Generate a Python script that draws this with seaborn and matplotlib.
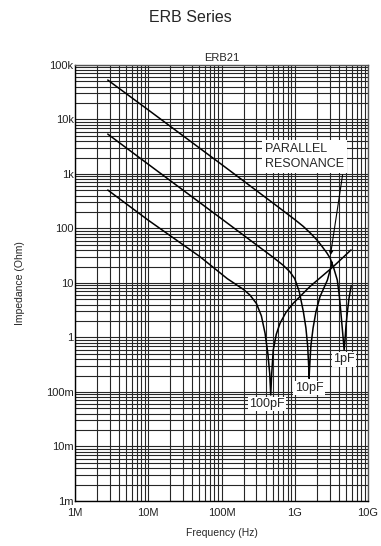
import numpy as np
import pandas as pd
import seaborn as sns
import matplotlib.pyplot as plt
from matplotlib.ticker import FixedLocator, LogLocator, NullFormatter

# impedance curves (Hz, Ohm)
freq_1pf = [2.8e6, 1e7, 1e8, 5e8, 1e9, 1.3e9, 1.61e9, 2.0e9, 2.3e9, 2.73e9, 3.03e9,
            3.4e9, 3.81e9, 4.05e9, 4.27e9, 4.45e9, 4.6e9, 4.72e9, 4.85e9, 5.0e9,
            5.21e9, 5.5e9, 5.9e9]
imp_1pf = [53000, 15000, 1500, 296, 146, 110, 84, 62, 49, 36, 28.8,
           19, 11.3, 6.0, 2.8, 1.5, 0.9, 0.59, 0.9, 1.6,
           2.8, 5.2, 9.0]

freq_10pf = [2.8e6, 1e7, 1e8, 5e8, 7e8, 8.6e8, 1.0e9, 1.15e9, 1.31e9, 1.42e9, 1.5e9,
             1.55e9, 1.57e9, 1.6e9, 1.66e9, 1.78e9, 1.95e9, 2.21e9, 2.79e9, 3.25e9]
imp_10pf = [5400, 1510, 151, 30, 21, 16, 12, 7.0, 3.0, 1.5, 0.7,
            0.3, 0.178, 0.3, 0.7, 1.5, 3.0, 5.6, 11.3, 24]

freq_100pf = [2.8e6, 1e7, 5.08e7, 1.2e8, 2.0e8, 2.45e8, 3.0e8, 3.5e8, 3.93e8,
              4.3e8, 4.55e8, 4.7e8, 4.85e8, 5.09e8, 5.6e8, 6.29e8, 7.6e8, 9.55e8,
              1.61e9, 3.36e9, 5.86e9]
imp_100pf = [508, 142, 30.4, 12, 7.6, 6.0, 4.2, 2.5, 1.2,
             0.5, 0.22, 0.088, 0.22, 0.59, 1.15, 1.82, 2.9, 4.25,
             8.6, 20, 40.4]

x_ticks = [1e6, 1e7, 1e8, 1e9, 1e10]
x_labels = ["1M", "10M", "100M", "1G", "10G"]
y_ticks = [1e-3, 1e-2, 1e-1, 1, 10, 100, 1e3, 1e4, 1e5]
y_labels = ["1m", "10m", "100m", "1", "10", "100", "1k", "10k", "100k"]

curves = [("1pF", freq_1pf, imp_1pf), ("10pF", freq_10pf, imp_10pf),
          ("100pF", freq_100pf, imp_100pf)]
df = pd.concat([pd.DataFrame({"freq": f, "imp": z, "cap": name}) for name, f, z in curves])

sns.set_style("white")
plt.rcParams["font.family"] = ["Liberation Sans", "DejaVu Sans"]

fig = plt.figure(figsize=(3.81, 5.46), dpi=100)
ax = fig.add_axes([75 / 381, 1 - 501 / 546, 293 / 381, 436 / 546])

ax.set_xscale("log")
ax.set_yscale("log")
ax.set_xlim(1e6, 1e10)
ax.set_ylim(1e-3, 1e5)

for name, _, _ in curves:
    sns.lineplot(data=df[df["cap"] == name], x="freq", y="imp", ax=ax,
                 color="black", linewidth=1.1, estimator=None, sort=False, legend=False, zorder=3)

ax.xaxis.set_major_locator(FixedLocator(x_ticks))
ax.set_xticklabels(x_labels)
ax.yaxis.set_major_locator(FixedLocator(y_ticks))
ax.set_yticklabels(y_labels)
ax.xaxis.set_minor_locator(LogLocator(base=10, subs=np.arange(2, 10), numticks=20))
ax.yaxis.set_minor_locator(LogLocator(base=10, subs=np.arange(2, 10), numticks=20))
ax.xaxis.set_minor_formatter(NullFormatter())
ax.yaxis.set_minor_formatter(NullFormatter())
ax.grid(True, which="both", color="#262626", linewidth=0.8)
ax.tick_params(which="both", length=0, labelsize=8, colors="#222222")
ax.tick_params(axis="x", pad=5)
ax.tick_params(axis="y", pad=1)
for side in ["left", "bottom"]:
    ax.spines[side].set_color("black")
    ax.spines[side].set_linewidth(1.0)
for side in ["right", "top"]:
    ax.spines[side].set_color("#555555")
    ax.spines[side].set_linewidth(1.0)

ax.set_xlabel("Frequency (Hz)", fontsize=7.5, labelpad=7)
ax.set_ylabel("Impedance (Ohm)", fontsize=7.5, labelpad=15)
ax.set_title("ERB21", fontsize=8, pad=3)
fig.suptitle("ERB Series", fontsize=11.5, y=1 - 17 / 546, va="center")

box = dict(facecolor="white", edgecolor="none", pad=1)
ax.text(4.18e8, 0.06, "100pF", fontsize=9, ha="center", va="center", bbox=box, zorder=4)
ax.text(1.57e9, 0.118, "10pF", fontsize=9, ha="center", va="center", bbox=box, zorder=4)
ax.text(4.7e9, 0.40, "1pF", fontsize=9, ha="center", va="center", bbox=box, zorder=4)
ax.text(3.93e8, 2100, "PARALLEL\nRESONANCE", fontsize=9, ha="left", va="center",
        linespacing=1.35, bbox=dict(facecolor="white", edgecolor="none", pad=2), zorder=4)
ax.annotate("", xy=(3.03e9, 28.8), xytext=(4.56e9, 1090),
            arrowprops=dict(arrowstyle="-|>", color="black", lw=0.8, mutation_scale=6), zorder=4)

fig.savefig("out.png", dpi=100)
